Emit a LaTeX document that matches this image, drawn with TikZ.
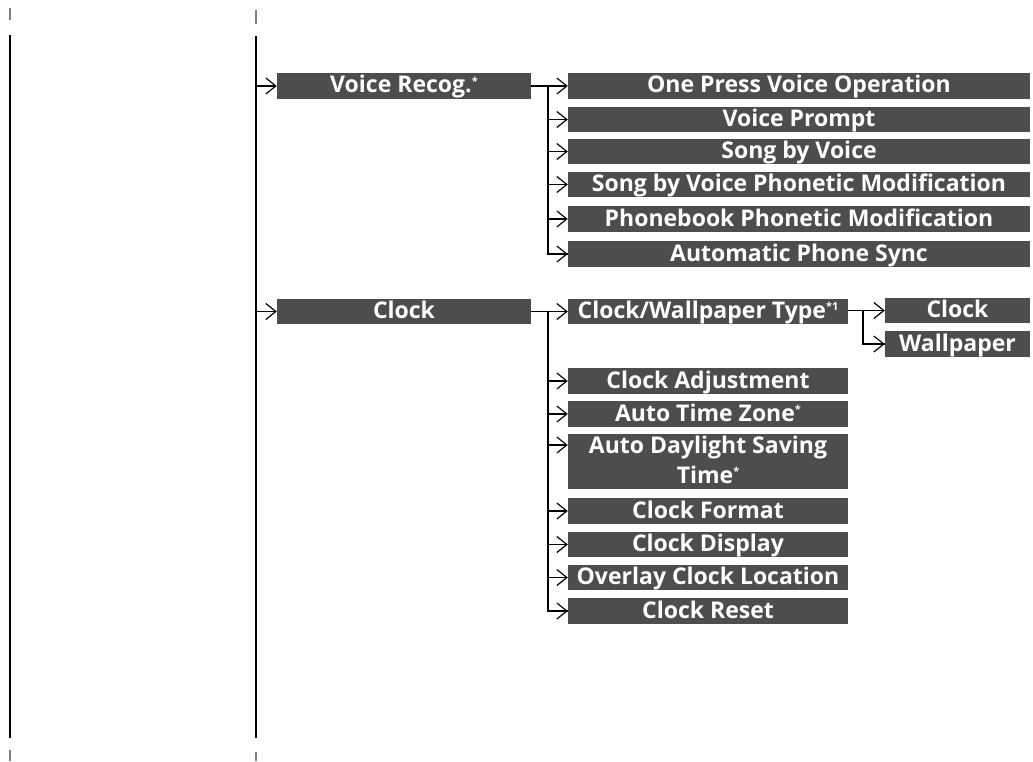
\documentclass[tikz,border=0pt]{standalone}
\usepackage{fontspec}
\setmainfont{Open Sans}
\usetikzlibrary{arrows.meta}
\definecolor{boxgray}{HTML}{4D4D4D}
\newcommand\supmark[1]{\raisebox{0.6ex}{\fontsize{11}{11}\selectfont #1}}
\tikzset{
  menubox/.style={fill=boxgray, text=white, font=\bfseries\fontsize{23}{30}\selectfont,
    inner sep=0pt, minimum height=26pt, align=center, text height=17pt, text depth=3pt},
  conn/.style={line width=1.8pt, draw=black},
  arr/.style={conn, -{Straight Barb[length=10pt,width=16pt,line width=1.2pt]}},
  tick/.style={draw=gray, line width=1.2pt},
}
\begin{document}
\begin{tikzpicture}[x=1pt,y=-1pt]
\useasboundingbox (0,0) rectangle (1033,762);
% side rules
\coordinate (la) at (10,35);
\coordinate (lb) at (10,738);
\coordinate (ma) at (256,36);
\coordinate (mb) at (256,738);
\draw[conn] (la) -- (lb);
\draw[conn] (ma) -- (mb);
\coordinate (t1a) at (10,8);  \coordinate (t1b) at (10,20);
\coordinate (t2a) at (256,10); \coordinate (t2b) at (256,24);
\coordinate (t3a) at (10,750); \coordinate (t3b) at (10,761);
\coordinate (t4a) at (256,752); \coordinate (t4b) at (256,761);
\draw[tick] (t1a) -- (t1b);
\draw[tick] (t2a) -- (t2b);
\draw[tick] (t3a) -- (t3b);
\draw[tick] (t4a) -- (t4b);

% level 1
\node[menubox, minimum width=254pt] (vr) at (404,86) {Voice Recog.\supmark{*}};
\node[menubox, minimum width=254pt, minimum height=25pt] (clk) at (404,311.5) {Clock};

% voice recog children
\node[menubox, minimum width=462pt] (v1) at (799,86) {One Press Voice Operation};
\node[menubox, minimum width=462pt, minimum height=25pt] (v2) at (799,119.5) {Voice Prompt};
\node[menubox, minimum width=462pt, minimum height=25pt] (v3) at (799,151.5) {Song by Voice};
\node[menubox, minimum width=462pt, minimum height=25pt] (v4) at (799,184.5) {Song by Voice Phonetic Modification};
\node[menubox, minimum width=462pt] (v5) at (799,219) {Phonebook Phonetic Modification};
\node[menubox, minimum width=462pt] (v6) at (799,254) {Automatic Phone Sync};

% clock children
\node[menubox, minimum width=280pt, minimum height=25pt] (c1) at (708,311.5) {Clock/Wallpaper Type\supmark{*1}};
\node[menubox, minimum width=280pt] (c2) at (708,381) {Clock Adjustment};
\node[menubox, minimum width=280pt] (c3) at (708,414) {Auto Time Zone\supmark{*}};
\node[menubox, minimum width=280pt, minimum height=55pt, text height=10pt, text depth=27pt]
  (c4) at (708,461.5) {\parbox[t]{280pt}{\centering Auto Daylight Saving\\Time\supmark{*}}};
\node[menubox, minimum width=280pt] (c5) at (708,511) {Clock Format};
\node[menubox, minimum width=280pt, minimum height=25pt] (c6) at (708,544.5) {Clock Display};
\node[menubox, minimum width=280pt, minimum height=25pt] (c7) at (708,577.5) {Overlay Clock Location};
\node[menubox, minimum width=280pt] (c8) at (708,611) {Clock Reset};

% clock/wallpaper type children
\node[menubox, minimum width=145pt, minimum height=25pt] (w1) at (957.5,310.5) {Clock};
\node[menubox, minimum width=145pt] (w2) at (957.5,344) {Wallpaper};

% arrows from main rule
\draw[arr] (ma |- vr.west) -- (vr.west);
\draw[arr] (ma |- clk.west) -- (clk.west);

% voice recog branch
\coordinate (bv) at (548,86);
\draw[conn] (vr.east) -- (bv) |- (v6.west);
\draw[arr] (vr.east) -- (v1.west);
\foreach \n in {v2,v3,v4,v5,v6} \draw[arr] (bv |- \n.west) -- (\n.west);

% clock branch
\coordinate (bc) at (548,311.5);
\coordinate (c4in) at ([yshift=16.5pt]c4.west);
\draw[conn] (clk.east) -- (bc) |- (c8.west);
\draw[arr] (clk.east) -- (c1.west);
\foreach \n in {c2,c3,c5,c6,c7,c8} \draw[arr] (bc |- \n.west) -- (\n.west);
\draw[arr] (bc |- c4in) -- (c4in);

% clock/wallpaper type branch
\coordinate (bw) at (863,310.5);
\draw[conn] (c1.east |- bw) -- (bw) |- (w2.west);
\draw[arr] (c1.east |- bw) -- (w1.west);
\draw[arr] (bw |- w2.west) -- (w2.west);
\end{tikzpicture}
\end{document}
